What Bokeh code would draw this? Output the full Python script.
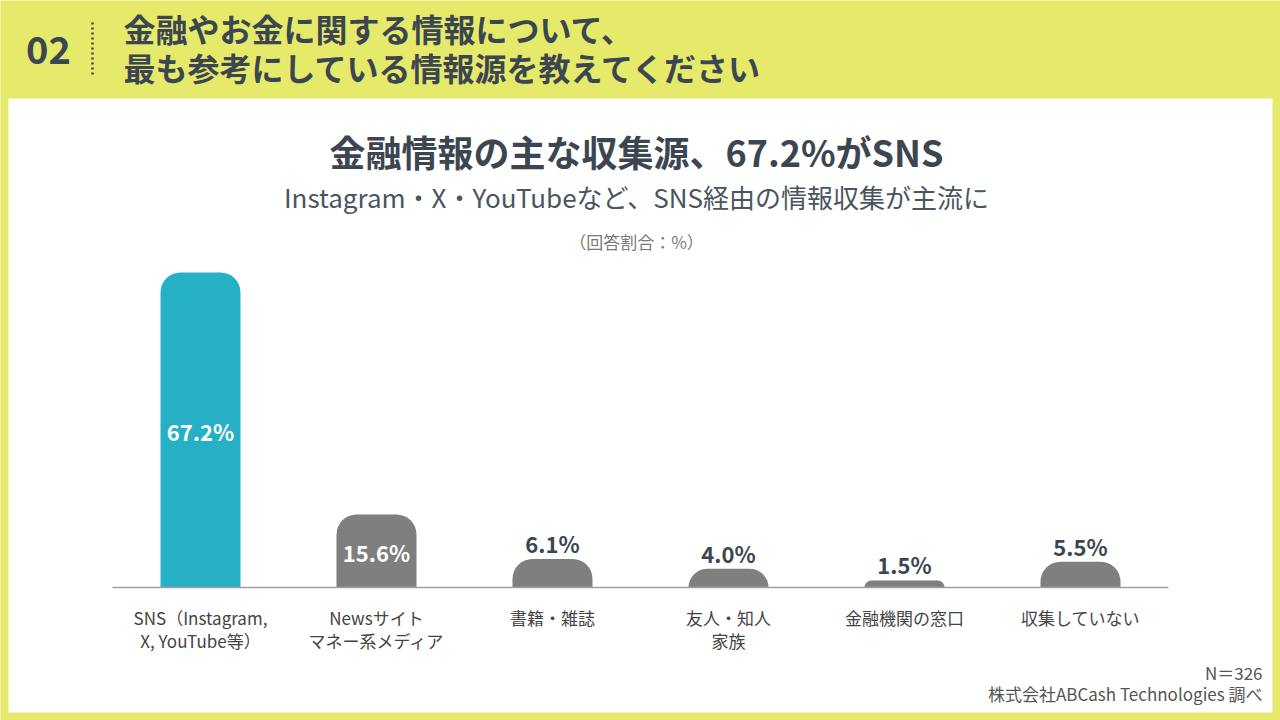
from bokeh.plotting import figure
from bokeh.models import Range1d
from bokeh.core.properties import value
from bokeh.embed import file_html
from bokeh.resources import INLINE

# ---- data ----
categories = ["SNS（Instagram,\nX, YouTube等）", "Newsサイト\nマネー系メディア", "書籍・雑誌",
              "友人・知人\n家族", "金融機関の窓口", "収集していない"]
values = [67.2, 15.6, 6.1, 4.0, 1.5, 5.5]
value_labels = ["67.2%", "15.6%", "6.1%", "4.0%", "1.5%", "5.5%"]
inside = [True, True, False, False, False, False]
bar_colors = ["#26B0C6", "#7F7F7F", "#7F7F7F", "#7F7F7F", "#7F7F7F", "#7F7F7F"]
positions = list(range(len(categories)))

YELLOW = "#E6EA6A"
DARK = "#3C4651"
JP = value("Noto Sans CJK JP")

p = figure(width=1280, height=720, x_range=Range1d(0, 1280), y_range=Range1d(720, 0),
           output_backend="svg", toolbar_location=None, min_border=0,
           x_axis_location=None, y_axis_location=None)
p.xgrid.visible = False
p.ygrid.visible = False
p.outline_line_color = None
p.background_fill_color = YELLOW
p.border_fill_color = YELLOW

# data ranges for the bars (mapped onto the page frame)
p.extra_x_ranges = {"cat": Range1d(-1.13636, 6.13636)}
p.extra_y_ranges = {"val": Range1d(-28.373, 125.227)}

# white panel
p.quad(left=[8], right=[1272], top=[98], bottom=[712], fill_color="white", line_color=None)

# header
p.text(x=[48], y=[49], text=["02"], text_font=JP, text_font_size="38px", text_font_style="bold",
       text_color=DARK, text_align="center", text_baseline="middle")
p.line(x=[92, 92], y=[22, 77], line_color=DARK, line_width=2.5, line_dash="2 3")
p.text(x=[123, 123], y=[27, 66], text=["金融やお金に関する情報について、", "最も参考にしている情報源を教えてください"],
       text_font=JP, text_font_size="32px", text_font_style="bold", text_color=DARK,
       text_align="left", text_baseline="middle")

# chart titles
p.text(x=[636], y=[150], text=["金融情報の主な収集源、67.2%がSNS"], text_font=JP, text_font_size="36px",
       text_font_style="bold", text_color=DARK, text_align="center", text_baseline="middle")
p.text(x=[636], y=[196], text=["Instagram・X・YouTubeなど、SNS経由の情報収集が主流に"], text_font=JP,
       text_font_size="26px", text_color="#4A5560", text_align="center", text_baseline="middle")
p.text(x=[636], y=[241], text=["（回答割合：%）"], text_font=JP, text_font_size="17px",
       text_color="#7A7A7A", text_align="center", text_baseline="middle")

# bars
p.vbar(x=positions, top=values, bottom=0, width=80 / 176, fill_color=bar_colors, line_color=None,
       border_radius=(20, 20, 0, 0), x_range_name="cat", y_range_name="val")

# baseline
p.segment(x0=[positions[0] - 0.5], x1=[positions[-1] + 0.5], y0=[0], y1=[0],
          x_range_name="cat", y_range_name="val", line_color="#A0A0A0", line_width=1.5)

# value labels
in_x = [c for c, i in zip(positions, inside) if i]
in_y = [v / 2 for v, i in zip(values, inside) if i]
in_t = [t for t, i in zip(value_labels, inside) if i]
out_x = [c for c, i in zip(positions, inside) if not i]
out_y = [v for v, i in zip(values, inside) if not i]
out_t = [t for t, i in zip(value_labels, inside) if not i]
p.text(x=in_x, y=in_y, text=in_t, x_range_name="cat", y_range_name="val", text_font=JP,
       text_font_size="22px", text_font_style="bold", text_color="white", text_align="center",
       text_baseline="middle", y_offset=1)
p.text(x=out_x, y=out_y, text=out_t, x_range_name="cat", y_range_name="val", text_font=JP,
       text_font_size="22px", text_font_style="bold", text_color=DARK, text_align="center",
       text_baseline="middle", y_offset=-16)

# category labels
p.text(x=positions, y=[0] * len(categories), text=categories, x_range_name="cat", y_range_name="val",
       text_font=JP, text_font_size="17px", text_color="#444444", text_align="center",
       text_baseline="top", y_offset=17, text_line_height=0.94)

# footer
p.text(x=[1262, 1262], y=[672, 693], text=["N＝326", "株式会社ABCash Technologies 調べ"], text_font=JP,
       text_font_size="17px", text_color="#555555", text_align="right", text_baseline="middle")

open("out.html", "w").write(file_html(p, INLINE))
